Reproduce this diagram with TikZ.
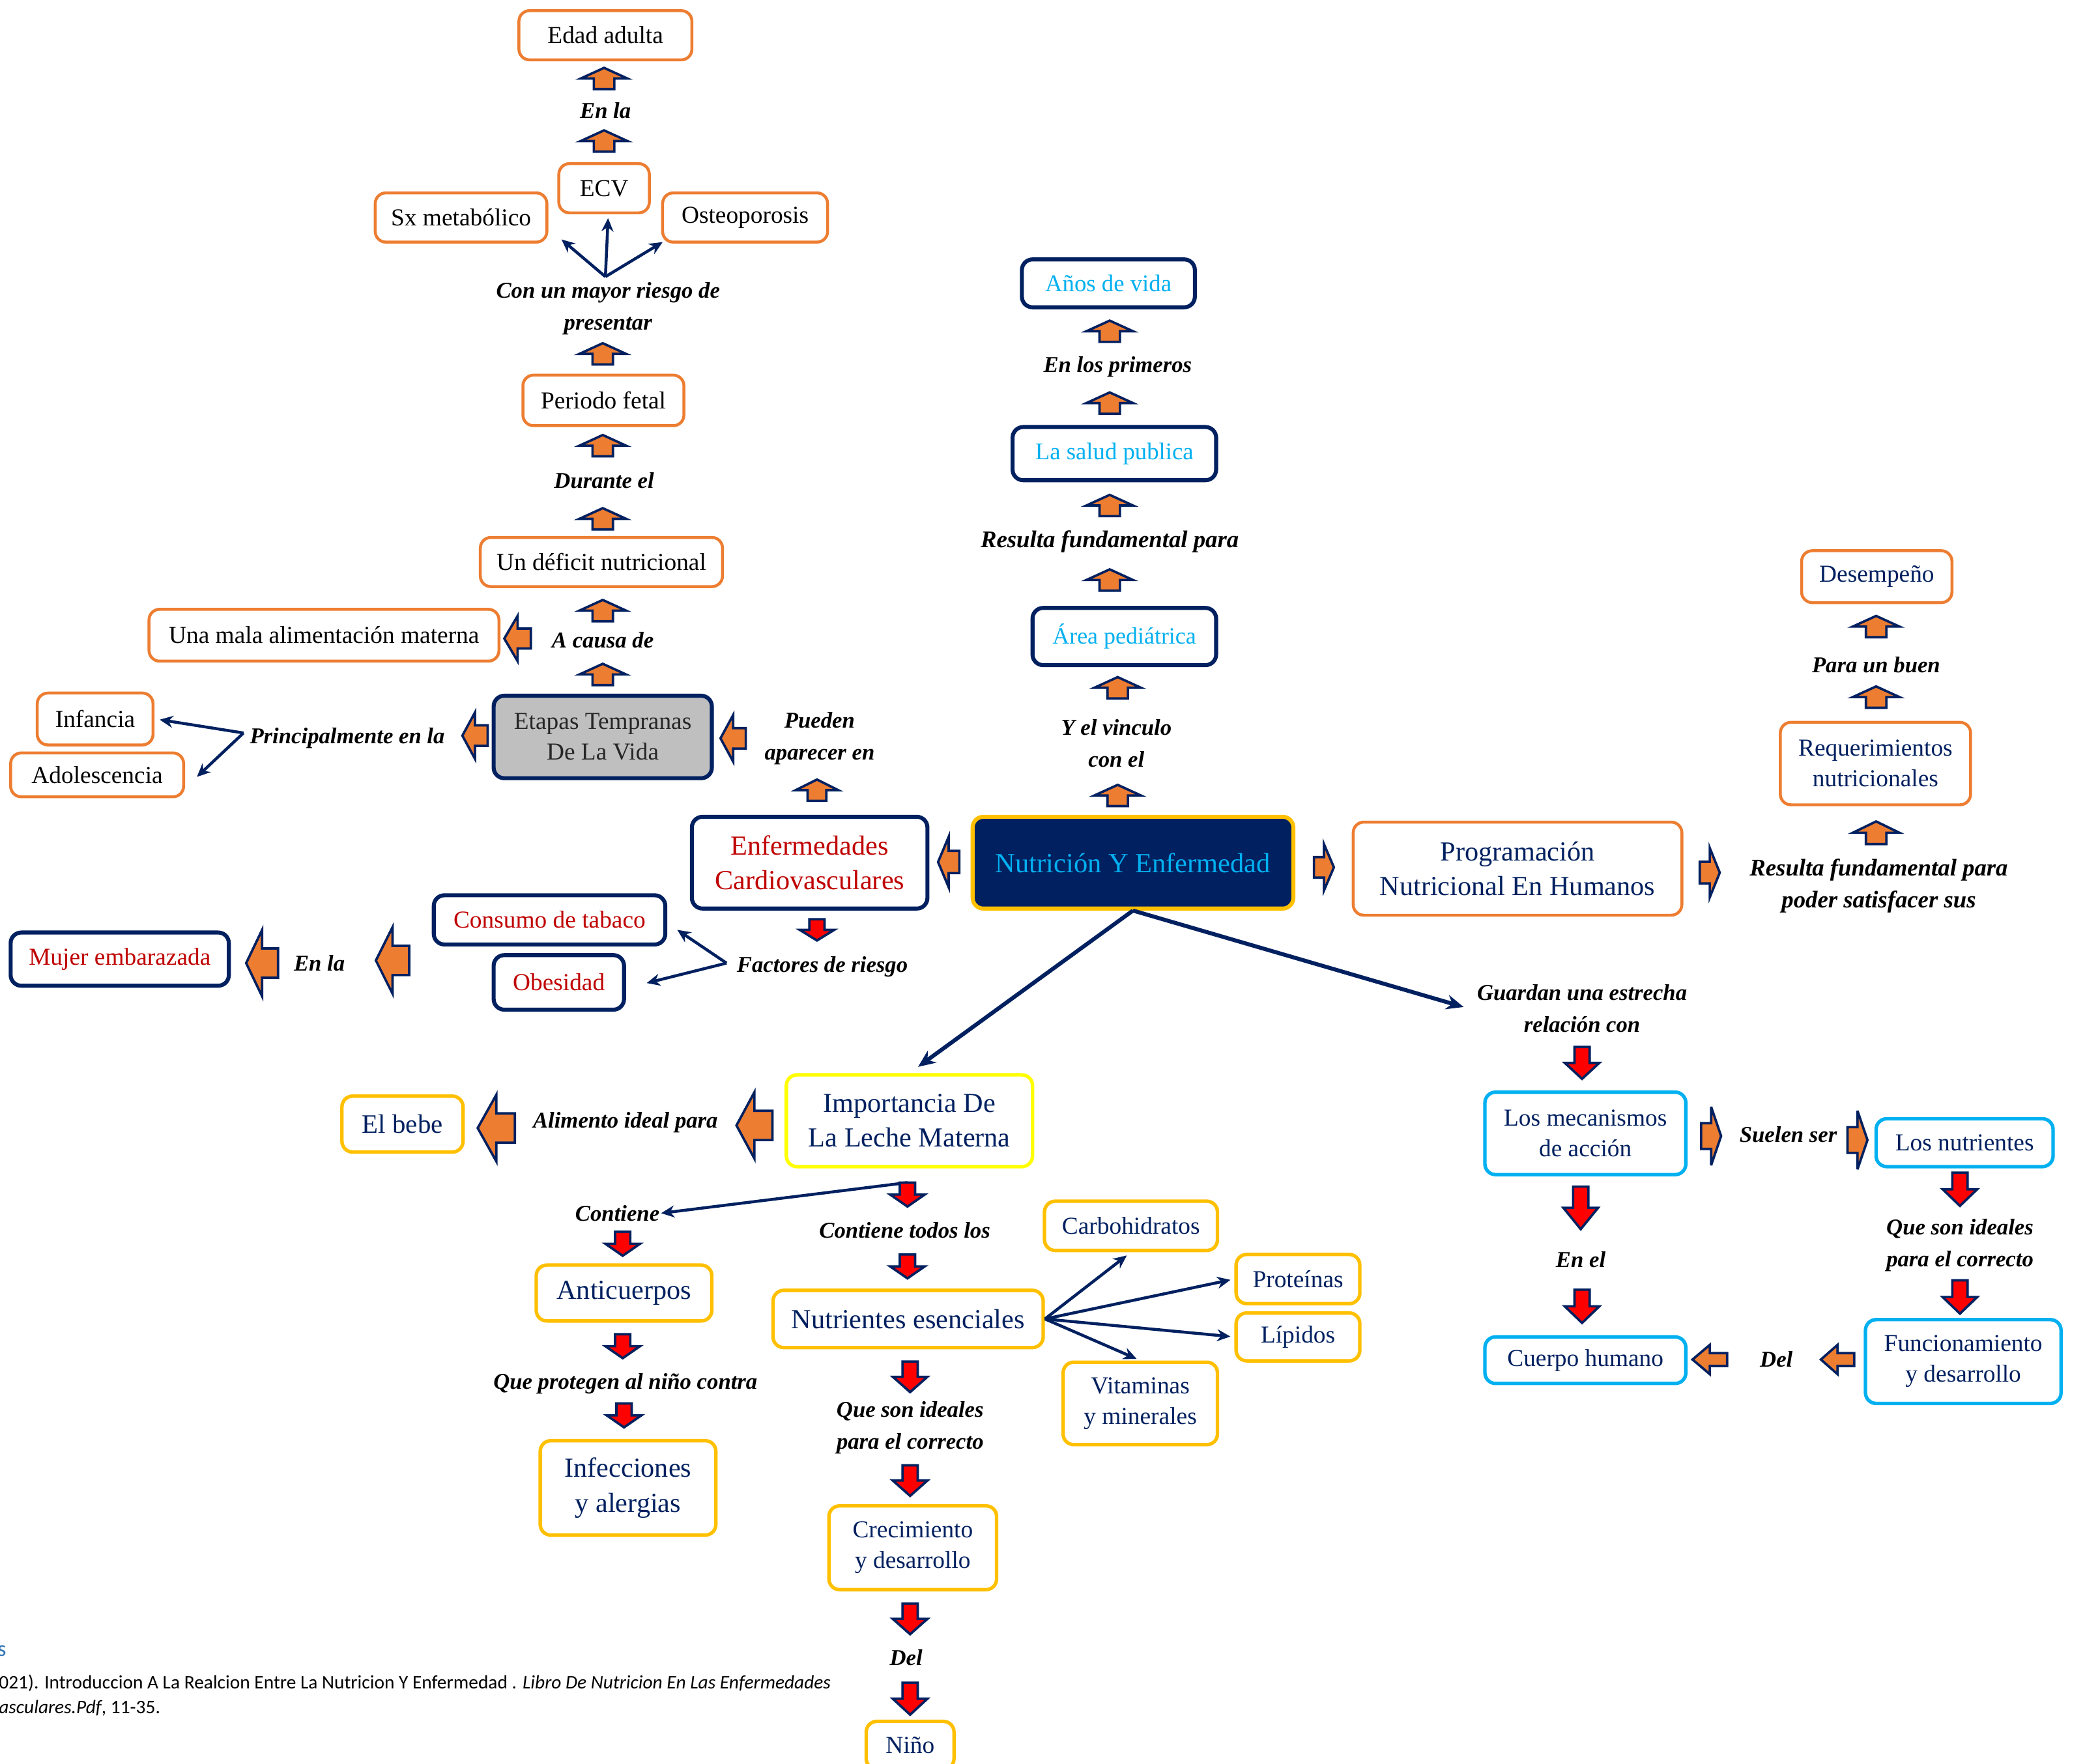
\documentclass[tikz,border=0pt]{standalone}
\usepackage{fontspec}
\setmainfont{Liberation Serif}
\newfontfamily\calfont{Carlito}
\usetikzlibrary{arrows.meta}
\definecolor{navy}{HTML}{002060}
\definecolor{orng}{HTML}{ED7D31}
\definecolor{redt}{HTML}{C00000}
\definecolor{lblue}{HTML}{00B0F0}
\definecolor{gold}{HTML}{FFC000}
\definecolor{yel}{HTML}{FFFF00}
\definecolor{grayf}{HTML}{BFBFBF}
\definecolor{redf}{HTML}{FF0000}
\definecolor{refblue}{HTML}{2E74B5}
\newcommand\barrow[6]{%
 \begin{scope}[shift={(#1,#2)},rotate=#3]
 \filldraw[draw=navy,fill=#6,line width=1.8pt,line join=miter,miter limit=6]
 (-#4/2,-0.22*#5) -- (0,-0.22*#5) -- (0,-#5/2) -- (#4/2,0) -- (0,#5/2) -- (0,0.22*#5) -- (-#4/2,0.22*#5) -- cycle;
 \end{scope}}
\tikzset{
 bx/.style={rounded corners=8pt, align=center, inner sep=0pt, font=\fontsize{18.3}{23}\selectfont},
 big/.style={font=\fontsize{20.7}{26}\selectfont},
 ob/.style={bx, draw=orng, line width=2.2pt, text=black},
 nb/.style={bx, draw=navy, line width=3pt},
 cb/.style={bx, draw=lblue, line width=2.6pt, text=navy},
 gb/.style={bx, draw=gold, line width=2.6pt, text=navy},
 lab/.style={font=\fontsize{17}{24}\selectfont\bfseries\itshape, align=center, inner sep=1pt},
 labb/.style={font=\fontsize{18}{24}\selectfont\bfseries\itshape, align=center, inner sep=1pt},
 con/.style={draw=navy, line width=2.2pt, -{Stealth[length=10pt,width=9pt]}},
 bigcon/.style={draw=navy, line width=3pt, -{Stealth[length=13pt,width=11pt]}},
 sz/.style 2 args={minimum width=#1pt, minimum height=#2pt},
}
\begin{document}
\begin{tikzpicture}[x=1pt,y=-1pt]
\useasboundingbox[fill=white] (0,0) rectangle (1567,1326);
% ---------- left upper column
\node[ob, sz={130}{37}] (edad) at (455,26.5) {Edad adulta};
\node[lab] (enla1) at (455,83) {En la};
\node[ob, sz={68}{37}] (ecv) at (454,141.5) {ECV};
\node[ob, sz={129}{37}] (sx) at (346.5,163.5) {Sx metabólico};
\node[ob, sz={124}{37}] (osteo) at (560,163.5) {Osteoporosis};
\node[lab] (riesgo) at (457,232) {Con un mayor riesgo de\\presentar};
\node[ob, sz={121}{38}] (fetal) at (453.5,301) {Periodo fetal};
\node[lab] (durante) at (454,361) {Durante el};
\node[ob, sz={182}{37}] (deficit) at (452,422.5) {Un déficit nutricional};
\node[lab] (causa) at (453,481) {A causa de};
\node[ob, sz={263}{39}] (mala) at (243.5,477.5) {Una mala alimentación materna};
\node[nb, fill=grayf, text=black!85, sz={164}{62}] (etapas) at (453,554) {Etapas Tempranas\\De La Vida};
\node[lab] (princ) at (261,555) {Principalmente en la};
\node[ob, sz={87}{39}] (infancia) at (71.5,540.5) {Infancia};
\node[ob, sz={130}{33}] (adol) at (73,582.5) {Adolescencia};
\node[lab] (pueden) at (616,555) {Pueden\\aparecer en};
% ---------- center
\node[nb, big, text=redt, sz={177}{69}] (enf) at (608.5,648.5) {Enfermedades\\Cardiovasculares};
\node[bx, draw=gold, line width=3pt, fill=navy, text=lblue, font=\fontsize{20.8}{26}\selectfont, sz={241}{69}] (nutri) at (851.5,648.5) {Nutrición Y Enfermedad};
\node[ob, big, text=navy, sz={247}{70}] (prog) at (1140.5,653) {Programación\\Nutricional En Humanos};
\node[labb] (resulta2) at (1412,666) {Resulta fundamental para\\poder satisfacer sus};
\node[ob, text=navy, sz={143}{62}] (req) at (1409.5,574) {Requerimientos\\nutricionales};
\node[lab] (buen) at (1410,500) {Para un buen};
\node[ob, text=navy, sz={113}{39}] (desem) at (1410.5,433.5) {Desempeño};
% ---------- upper middle column
\node[lab] (vinculo) at (839,559) {Y el vinculo\\con el};
\node[nb, text=lblue, font=\fontsize{17.6}{22}\selectfont, sz={138}{43}] (area) at (845,478.5) {Área pediátrica};
\node[labb] (resulta1) at (834,407) {Resulta fundamental para};
\node[nb, text=lblue, font=\fontsize{18}{22}\selectfont, sz={153}{40}] (salud) at (837.5,341) {La salud publica};
\node[lab] (primeros) at (840,276) {En los primeros};
\node[nb, text=lblue, font=\fontsize{18}{22}\selectfont, sz={130}{36}] (anos) at (833,213) {Años de vida};
% ---------- left lower
\node[nb, text=redt, sz={164}{40}] (mujer) at (90,721) {Mujer embarazada};
\node[lab] (enla2) at (240,724) {En la};
\node[nb, text=redt, sz={174}{37}] (tabaco) at (413,691.5) {Consumo de tabaco};
\node[nb, text=redt, sz={98}{41}] (obes) at (420,738.5) {Obesidad};
\node[lab] (factores) at (618,727) {Factores de riesgo};
% ---------- right lower
\node[lab] (guardan) at (1189,758) {Guardan una estrecha\\relación con};
\node[cb, sz={151}{62}] (mec) at (1191.5,852) {Los mecanismos\\de acción};
\node[lab] (suelen) at (1344,853) {Suelen ser};
\node[cb, sz={133}{36}] (nutrientes) at (1476.5,859) {Los nutrientes};
\node[lab] (ideales2) at (1473,936) {Que son ideales\\para el correcto};
\node[cb, sz={147}{63}] (func) at (1475.5,1023.5) {Funcionamiento\\y desarrollo};
\node[lab] (del2) at (1335,1022) {Del};
\node[cb, sz={151}{35}] (cuerpo) at (1191.5,1022.5) {Cuerpo humano};
\node[lab] (enel) at (1188,947) {En el};
% ---------- bottom middle
\node[gb, big, draw=yel, sz={185}{69}] (leche) at (683.5,842.5) {Importancia De\\La Leche Materna};
\node[lab] (alimento) at (470,844) {Alimento ideal para};
\node[gb, font=\fontsize{20}{24}\selectfont, sz={91}{42}] (bebe) at (302.5,845) {El bebe};
\node[lab] (contiene) at (464,912) {Contiene};
\node[lab] (todos) at (680,925) {Contiene todos los};
\node[gb, big, sz={132}{42}] (antic) at (469,972) {Anticuerpos};
\node[lab] (protegen) at (470,1040) {Que protegen al niño contra};
\node[gb, big, sz={132}{71}] (infec) at (472,1118.5) {Infecciones\\y alergias};
\node[gb, big, sz={203}{43}] (nesenc) at (682.5,991.5) {Nutrientes esenciales};
\node[gb, sz={130}{37}] (carbo) at (850,921.5) {Carbohidratos};
\node[gb, sz={93}{37}] (prot) at (975.5,961.5) {Proteínas};
\node[gb, sz={93}{36}] (lip) at (975.5,1005) {Lípidos};
\node[gb, sz={116}{62}] (vit) at (857,1055) {Vitaminas\\y minerales};
\node[lab] (ideales1) at (684,1073) {Que son ideales\\para el correcto};
\node[gb, sz={126}{63}] (crec) at (686,1163.5) {Crecimiento\\y desarrollo};
\node[lab] (del1) at (681,1246) {Del};
\node[gb, sz={66}{36}] (nino) at (684,1312) {Niño};
% ---------- footer
\node[anchor=west, inner sep=0pt, text=refblue, font=\calfont\fontsize{16.5}{18}\selectfont] (refh) at (-2,1241) {s};
\node[anchor=west, inner sep=0pt, font=\calfont\fontsize{14.4}{18}\selectfont] (ref1) at (-1,1265) {021). Introduccion A La Realcion Entre La Nutricion Y Enfermedad . \textit{Libro De Nutricion En Las Enfermedades}};
\node[anchor=west, inner sep=0pt, font=\calfont\fontsize{14.4}{18}\selectfont] (ref2) at (-1,1284) {\textit{asculares.Pdf}, 11-35.};
% ---------- connector end points
\coordinate (fanhub) at (455,208);
\coordinate (fsx) at (422,180);
\coordinate (fecv) at (457,164);
\coordinate (fost) at (498,182);
\coordinate (phub) at (183,551);
\coordinate (pinf) at (120,541);
\coordinate (padol) at (148,584);
\coordinate (fhub) at (546,724);
\coordinate (ftab) at (509,699);
\coordinate (fobe) at (486,739);
\coordinate (gend) at (1100,757);
\coordinate (lhub) at (682,889);
% ---------- connectors
\draw[con] (fanhub) -- (fsx);
\draw[con] (fanhub) -- (fecv);
\draw[con] (fanhub) -- (fost);
\draw[con] (phub) -- (pinf);
\draw[con] (phub) -- (padol);
\draw[con] (fhub) -- (ftab);
\draw[con] (fhub) -- (fobe);
\draw[bigcon, shorten >=8pt] (nutri.south) -- (leche.north);
\draw[bigcon] (nutri.south) -- (gend);
\draw[con] (lhub) -- (contiene.east);
\draw[con, shorten >=4pt] (nesenc.east) -- (carbo.south);
\draw[con, shorten >=3pt] (nesenc.east) -- (prot.west);
\draw[con, shorten >=3pt] (nesenc.east) -- (lip.west);
\draw[con, shorten >=3pt] (nesenc.east) -- (vit.north);
% ---------- block arrows: up
\barrow{454}{59}{90}{16}{35}{orng}
\barrow{454}{106}{90}{16}{35}{orng}
\barrow{453}{266}{90}{16}{35}{orng}
\barrow{453}{335}{90}{16}{35}{orng}
\barrow{453}{390}{90}{16}{35}{orng}
\barrow{453}{459}{90}{16}{35}{orng}
\barrow{453}{507}{90}{16}{35}{orng}
\barrow{614}{594}{90}{16}{32}{orng}
\barrow{840}{598}{90}{16}{35}{orng}
\barrow{840}{517}{90}{16}{35}{orng}
\barrow{834}{436}{90}{16}{35}{orng}
\barrow{834}{380}{90}{16}{35}{orng}
\barrow{834}{303}{90}{16}{35}{orng}
\barrow{834}{249}{90}{16}{35}{orng}
\barrow{1410}{471}{90}{16}{35}{orng}
\barrow{1410}{524}{90}{16}{35}{orng}
\barrow{1410}{626}{90}{17}{35}{orng}
% left
\barrow{389}{480}{180}{20}{34}{orng}
\barrow{357}{553}{180}{19}{35}{orng}
\barrow{551}{555}{180}{19}{35}{orng}
\barrow{713}{648}{180}{16}{38}{orng}
\barrow{197}{724}{180}{24}{50}{orng}
\barrow{295}{722}{180}{25}{50}{orng}
\barrow{567}{846}{180}{27}{50}{orng}
\barrow{373}{848}{180}{28}{50}{orng}
\barrow{1381}{1022}{180}{25}{22}{orng}
\barrow{1285}{1022}{180}{26}{22}{orng}
% right
\barrow{995}{652}{0}{15}{35}{orng}
\barrow{1285}{656}{0}{15}{37}{orng}
\barrow{1286}{854}{0}{15}{44}{orng}
\barrow{1396}{857}{0}{15}{44}{orng}
% down
\barrow{614}{699}{-90}{16}{26}{redf}
\barrow{1189}{799}{-90}{24}{26}{redf}
\barrow{1188}{908}{-90}{32}{26}{redf}
\barrow{1189}{982}{-90}{25}{26}{redf}
\barrow{1473}{894}{-90}{25}{26}{redf}
\barrow{1473}{975}{-90}{25}{26}{redf}
\barrow{682}{898}{-90}{18}{26}{redf}
\barrow{682}{952}{-90}{18}{26}{redf}
\barrow{468}{935}{-90}{18}{26}{redf}
\barrow{468}{1012}{-90}{18}{26}{redf}
\barrow{469}{1064}{-90}{18}{26}{redf}
\barrow{684}{1035}{-90}{23}{26}{redf}
\barrow{684}{1113}{-90}{23}{26}{redf}
\barrow{684}{1217}{-90}{23}{26}{redf}
\barrow{684}{1277}{-90}{24}{26}{redf}
\end{tikzpicture}
\end{document}
